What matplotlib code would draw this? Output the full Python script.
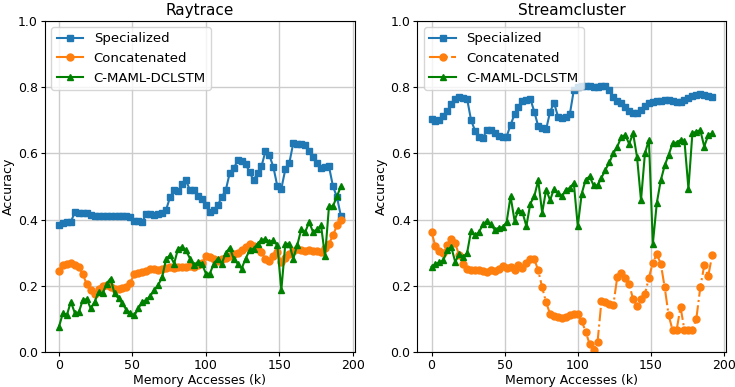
import numpy as np
import matplotlib.pyplot as plt

# memory accesses (k), 72 samples per series
mem = np.linspace(0, 192, 72)

ray_spec = [0.383, 0.389, 0.392, 0.393, 0.422, 0.420, 0.420, 0.419, 0.413, 0.412,
            0.412, 0.411, 0.411, 0.410, 0.411, 0.410, 0.411, 0.411, 0.409, 0.397,
            0.395, 0.393, 0.418, 0.416, 0.415, 0.416, 0.420, 0.430, 0.468, 0.488,
            0.485, 0.508, 0.518, 0.488, 0.488, 0.470, 0.462, 0.443, 0.423, 0.430,
            0.443, 0.468, 0.488, 0.540, 0.554, 0.578, 0.576, 0.568, 0.543, 0.518,
            0.540, 0.560, 0.606, 0.593, 0.558, 0.500, 0.493, 0.551, 0.570, 0.630,
            0.628, 0.627, 0.624, 0.608, 0.588, 0.569, 0.554, 0.558, 0.560, 0.500,
            0.468, 0.410]
ray_concat = [0.244, 0.262, 0.267, 0.269, 0.264, 0.257, 0.235, 0.205, 0.188, 0.175,
              0.190, 0.199, 0.202, 0.198, 0.190, 0.189, 0.192, 0.197, 0.210, 0.237,
              0.239, 0.242, 0.244, 0.250, 0.252, 0.248, 0.252, 0.255, 0.256, 0.254,
              0.257, 0.258, 0.256, 0.260, 0.258, 0.262, 0.268, 0.289, 0.286, 0.282,
              0.276, 0.280, 0.283, 0.290, 0.295, 0.300, 0.307, 0.318, 0.325, 0.320,
              0.310, 0.302, 0.280, 0.275, 0.290, 0.302, 0.272, 0.285, 0.297, 0.305,
              0.312, 0.308, 0.306, 0.307, 0.305, 0.306, 0.302, 0.315, 0.327, 0.352,
              0.382, 0.398]
ray_cmaml = [0.076, 0.118, 0.112, 0.152, 0.118, 0.120, 0.157, 0.160, 0.132, 0.152,
             0.182, 0.177, 0.207, 0.222, 0.177, 0.162, 0.147, 0.127, 0.117, 0.111,
             0.132, 0.152, 0.157, 0.170, 0.187, 0.202, 0.227, 0.282, 0.292, 0.267,
             0.312, 0.317, 0.307, 0.282, 0.262, 0.272, 0.267, 0.237, 0.237, 0.267,
             0.282, 0.267, 0.299, 0.315, 0.282, 0.267, 0.252, 0.282, 0.307, 0.312,
             0.327, 0.337, 0.342, 0.332, 0.337, 0.322, 0.187, 0.327, 0.327, 0.282,
             0.322, 0.370, 0.362, 0.392, 0.362, 0.370, 0.382, 0.289, 0.440, 0.440,
             0.470, 0.500]

sc_spec = [0.704, 0.698, 0.700, 0.711, 0.727, 0.747, 0.762, 0.770, 0.767, 0.764,
           0.700, 0.668, 0.650, 0.645, 0.671, 0.670, 0.660, 0.651, 0.650, 0.650,
           0.685, 0.717, 0.738, 0.757, 0.761, 0.764, 0.725, 0.681, 0.677, 0.672,
           0.725, 0.752, 0.710, 0.705, 0.710, 0.718, 0.790, 0.800, 0.804, 0.804,
           0.803, 0.800, 0.800, 0.802, 0.802, 0.790, 0.770, 0.758, 0.751, 0.740,
           0.728, 0.720, 0.720, 0.730, 0.742, 0.751, 0.754, 0.756, 0.758, 0.761,
           0.760, 0.757, 0.755, 0.754, 0.760, 0.765, 0.771, 0.776, 0.779, 0.775,
           0.772, 0.769]
sc_concat = [0.362, 0.319, 0.306, 0.298, 0.322, 0.342, 0.328, 0.292, 0.267, 0.250,
             0.248, 0.247, 0.248, 0.245, 0.242, 0.248, 0.246, 0.252, 0.260, 0.255,
             0.257, 0.247, 0.262, 0.255, 0.270, 0.282, 0.280, 0.247, 0.195, 0.150,
             0.115, 0.108, 0.106, 0.104, 0.106, 0.112, 0.114, 0.114, 0.094, 0.062,
             0.024, 0.008, 0.030, 0.155, 0.150, 0.146, 0.142, 0.227, 0.239, 0.225,
             0.205, 0.160, 0.140, 0.160, 0.175, 0.225, 0.270, 0.295, 0.267, 0.195,
             0.111, 0.066, 0.066, 0.136, 0.066, 0.066, 0.066, 0.101, 0.195, 0.262,
             0.229, 0.292]
sc_cmaml = [0.257, 0.266, 0.271, 0.277, 0.309, 0.317, 0.272, 0.295, 0.287, 0.299,
            0.365, 0.352, 0.362, 0.385, 0.395, 0.385, 0.369, 0.375, 0.377, 0.392,
            0.470, 0.397, 0.428, 0.422, 0.380, 0.448, 0.470, 0.518, 0.420, 0.490,
            0.458, 0.493, 0.480, 0.470, 0.490, 0.495, 0.510, 0.380, 0.478, 0.520,
            0.530, 0.503, 0.503, 0.526, 0.550, 0.572, 0.600, 0.620, 0.648, 0.655,
            0.628, 0.660, 0.588, 0.458, 0.600, 0.640, 0.327, 0.450, 0.518, 0.563,
            0.595, 0.630, 0.632, 0.640, 0.636, 0.493, 0.660, 0.665, 0.669, 0.620,
            0.654, 0.660]

fig = plt.figure(figsize=(7.35, 3.87), dpi=100)
ax1 = fig.add_axes([0.061, 0.090, 0.422, 0.857])
ax2 = fig.add_axes([0.568, 0.090, 0.420, 0.857])

panels = [(ax1, "Raytrace", ray_spec, ray_concat, ray_cmaml, "-"),
          (ax2, "Streamcluster", sc_spec, sc_concat, sc_cmaml, "-.")]

fs = 9
for ax, title, spec, concat, cmaml, cls in panels:
    ax.plot(mem, spec, "s-", color="tab:blue", markersize=5, label="Specialized")
    ax.plot(mem, concat, "o", linestyle=cls, color="tab:orange", markersize=5,
            label="Concatenated")
    ax.plot(mem, cmaml, "^-", color="green", markersize=5, label="C-MAML-DCLSTM")
    ax.set_ylim(0, 1.0)
    ax.set_xticks([0, 50, 100, 150, 200])
    ax.set_yticks([0.0, 0.2, 0.4, 0.6, 0.8, 1.0])
    ax.grid(True, color="#cccccc", linewidth=1)
    ax.set_axisbelow(True)
    ax.set_title(title, fontsize=11, pad=4)
    ax.set_xlabel("Memory Accesses (k)", fontsize=fs, labelpad=1)
    ax.set_ylabel("Accuracy", fontsize=fs, labelpad=2)
    ax.tick_params(labelsize=fs, length=3, pad=2)
    ax.legend(loc="upper left", fontsize=9.5)

fig.savefig("out.png", dpi=100)
